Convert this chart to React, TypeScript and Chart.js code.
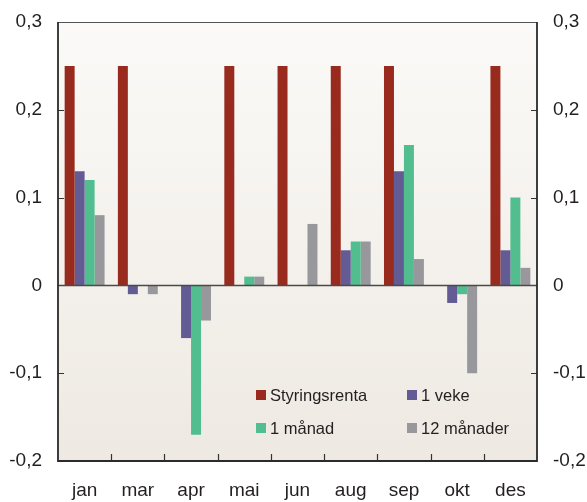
import React, { useEffect, useRef } from "react";
import { Chart, registerables } from "chart.js";

Chart.register(...registerables);

const months = ["jan", "mar", "apr", "mai", "jun", "aug", "sep", "okt", "des"];
const styringsrenta = [0.25, 0.25, 0, 0.25, 0.25, 0.25, 0.25, 0, 0.25];
const enVeke = [0.13, -0.01, -0.06, 0, 0, 0.04, 0.13, -0.02, 0.04];
const enManad = [0.12, 0, -0.17, 0.01, 0, 0.05, 0.16, -0.01, 0.1];
const tolvManader = [0.08, -0.01, -0.04, 0.01, 0.07, 0.05, 0.03, -0.1, 0.02];
const seriesNames = ["Styringsrenta", "1 veke", "1 månad", "12 månader"];
const seriesColors = ["#982b1e", "#625b94", "#52bd8f", "#98989c"];
const yMin = -0.2;
const yMax = 0.3;
const yStep = 0.1;

const FONT = "'Liberation Sans', Arial, sans-serif";
const TEXT = "#231f20";

const fmt = (v: number) => {
  const r = Math.round(v * 10) / 10;
  if (r === 0) return "0";
  return r.toFixed(1).replace(".", ",");
};

const decorPlugin = {
  id: "decor",
  beforeDraw(chart: any) {
    const { ctx, chartArea } = chart;
    const { left, right, top, bottom } = chartArea;
    const g = ctx.createLinearGradient(0, top, 0, bottom);
    g.addColorStop(0, "#fbfaf8");
    g.addColorStop(1, "#eee9e2");
    ctx.save();
    ctx.fillStyle = g;
    ctx.fillRect(left, top, right - left, bottom - top);
    ctx.restore();
  },
  afterDatasetsDraw(chart: any) {
    const { ctx, chartArea, scales } = chart;
    const { left, right, top, bottom } = chartArea;
    const y = scales.y;
    const x = scales.x;
    ctx.save();
    // zero line
    const y0 = Math.round(y.getPixelForValue(0)) + 0.5;
    ctx.strokeStyle = "#4a4a4a";
    ctx.lineWidth = 1.5;
    ctx.beginPath();
    ctx.moveTo(left, y0);
    ctx.lineTo(right, y0);
    ctx.stroke();
    // y ticks inward
    ctx.strokeStyle = "#333";
    ctx.lineWidth = 1.2;
    for (let v = yMin + yStep; v < yMax - 1e-6; v += yStep) {
      if (Math.abs(v) < 1e-6) continue;
      const py = Math.round(y.getPixelForValue(v)) + 0.5;
      ctx.beginPath();
      ctx.moveTo(left, py);
      ctx.lineTo(left + 6, py);
      ctx.moveTo(right, py);
      ctx.lineTo(right - 6, py);
      ctx.stroke();
    }
    // x category boundary ticks
    const n = months.length;
    for (let i = 1; i < n; i++) {
      const px = Math.round((x.getPixelForValue(i - 1) + x.getPixelForValue(i)) / 2) + 0.5;
      ctx.beginPath();
      ctx.moveTo(px, bottom);
      ctx.lineTo(px, bottom - 7);
      ctx.stroke();
    }
    // frame
    ctx.strokeStyle = "#555";
    ctx.lineWidth = 1;
    ctx.beginPath();
    ctx.moveTo(left, top + 0.5);
    ctx.lineTo(right, top + 0.5);
    ctx.stroke();
    ctx.strokeStyle = "#2b2b2b";
    ctx.lineWidth = 1.8;
    ctx.beginPath();
    ctx.moveTo(left, top);
    ctx.lineTo(left, bottom);
    ctx.lineTo(right, bottom);
    ctx.lineTo(right, top);
    ctx.stroke();
    // legend
    ctx.font = `16.5px ${FONT}`;
    ctx.fillStyle = TEXT;
    ctx.textBaseline = "middle";
    const cols = [256, 407];
    const rows = [395, 428];
    chart.data.datasets.forEach((ds: any, i: number) => {
      const cx = cols[i % 2];
      const cy = rows[Math.floor(i / 2)];
      ctx.fillStyle = ds.backgroundColor;
      ctx.fillRect(cx, cy - 5, 10, 10);
      ctx.fillStyle = TEXT;
      ctx.fillText(ds.label, cx + 14, cy + 1);
    });
    ctx.restore();
  },
};

export default function App() {
  const ref = useRef<HTMLCanvasElement | null>(null);
  useEffect(() => {
    document.body.style.margin = "0";
    const datasets = [styringsrenta, enVeke, enManad, tolvManader].map((d, i) => ({
      label: seriesNames[i],
      data: d,
      backgroundColor: seriesColors[i],
      borderWidth: 0,
      categoryPercentage: 0.75,
      barPercentage: 1,
    }));
    const tickFont = { family: FONT, size: 19 };
    const fitY = (w: number) => (s: any) => {
      s.width = w;
      s.paddingTop = 0;
      s.paddingBottom = 0;
    };
    const chart = new Chart(ref.current as HTMLCanvasElement, {
      type: "bar",
      data: { labels: months, datasets },
      plugins: [decorPlugin],
      options: {
        animation: false,
        responsive: false,
        maintainAspectRatio: false,
        layout: { padding: { top: 22, left: 0, right: 0, bottom: 0 } },
        plugins: { legend: { display: false }, tooltip: { enabled: false } },
        scales: {
          x: {
            grid: { display: false, drawTicks: false },
            border: { display: false },
            ticks: { font: tickFont, color: TEXT, padding: 18, maxRotation: 0 },
            afterFit: (s: any) => {
              s.height = 41;
              s.paddingLeft = 0;
              s.paddingRight = 0;
            },
          },
          y: {
            position: "left",
            min: yMin,
            max: yMax,
            grid: { display: false, drawTicks: false },
            border: { display: false },
            ticks: { stepSize: yStep, font: tickFont, color: TEXT, padding: 16, callback: (v: any) => fmt(Number(v)) },
            afterFit: fitY(58),
          },
          y2: {
            position: "right",
            min: yMin,
            max: yMax,
            grid: { display: false, drawTicks: false },
            border: { display: false },
            ticks: { stepSize: yStep, font: tickFont, color: TEXT, padding: 16, callback: (v: any) => fmt(Number(v)) },
            afterFit: fitY(50),
          },
        },
      } as any,
    });
    return () => chart.destroy();
  }, []);
  return (
    <div style={{ width: 587, height: 502 }}>
      <canvas ref={ref} width={587} height={502} style={{ display: "block" }} />
    </div>
  );
}
